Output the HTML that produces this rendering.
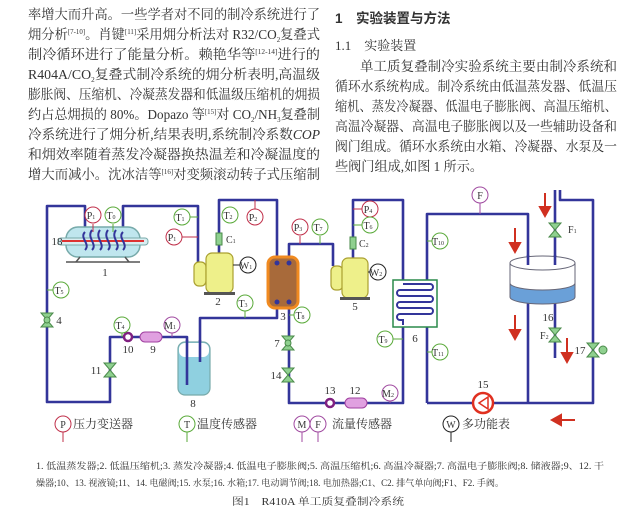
<!DOCTYPE html>
<html><head><meta charset="utf-8"><style>
html,body{margin:0;padding:0;background:#fff;}
svg{display:block;}
.t{font-family:"Liberation Serif","Noto Serif CJK SC",serif;fill:#333;}
.s{font-family:"Liberation Serif",serif;font-size:10px;}
</style></head><body>
<svg width="640" height="509" viewBox="0 0 640 509" xmlns="http://www.w3.org/2000/svg">
<g class="t" font-size="13.5">
<text x="28" y="19" textLength="292" lengthAdjust="spacingAndGlyphs">率增大而升高。一些学者对不同的制冷系统进行了</text>
<text x="28" y="39" textLength="292" lengthAdjust="spacingAndGlyphs">㶲分析<tspan font-size="7" dy="-5">[7-10]</tspan><tspan dy="5">。肖键</tspan><tspan font-size="7" dy="-5">[11]</tspan><tspan dy="5">采用㶲分析法对 R32/CO</tspan><tspan font-size="7" dy="3">2</tspan><tspan dy="-3">复叠式</tspan></text>
<text x="28" y="59" textLength="292" lengthAdjust="spacingAndGlyphs">制冷循环进行了能量分析。赖艳华等<tspan font-size="7" dy="-5">[12-14]</tspan><tspan dy="5">进行的</tspan></text>
<text x="28" y="79" textLength="292" lengthAdjust="spacingAndGlyphs">R404A/CO<tspan font-size="7" dy="3">2</tspan><tspan dy="-3">复叠式制冷系统的㶲分析表明,高温级</tspan></text>
<text x="28" y="99" textLength="292" lengthAdjust="spacingAndGlyphs">膨胀阀、压缩机、冷凝蒸发器和低温级压缩机的㶲损</text>
<text x="28" y="119" textLength="292" lengthAdjust="spacingAndGlyphs">约占总㶲损的 80%。Dopazo 等<tspan font-size="7" dy="-5">[15]</tspan><tspan dy="5">对 CO</tspan><tspan font-size="7" dy="3">2</tspan><tspan dy="-3">/NH</tspan><tspan font-size="7" dy="3">3</tspan><tspan dy="-3">复叠制</tspan></text>
<text x="28" y="139" textLength="292" lengthAdjust="spacingAndGlyphs">冷系统进行了㶲分析,结果表明,系统制冷系数<tspan font-style="italic">COP</tspan></text>
<text x="28" y="159" textLength="292" lengthAdjust="spacingAndGlyphs">和㶲效率随着蒸发冷凝器换热温差和冷凝温度的</text>
<text x="28" y="179" textLength="292" lengthAdjust="spacingAndGlyphs">增大而减小。沈冰洁等<tspan font-size="7" dy="-5">[16]</tspan><tspan dy="5">对变频滚动转子式压缩制</tspan></text>
</g>
<g class="t">
<text x="335" y="23" font-size="13.5" font-weight="bold" font-family="Liberation Sans,Noto Sans CJK SC,sans-serif">1　实验装置与方法</text>
<text x="335" y="50" font-size="13">1.1　实验装置</text>
<g font-size="13.5">
<text x="360" y="71" textLength="257" lengthAdjust="spacingAndGlyphs">单工质复叠制冷实验系统主要由制冷系统和</text>
<text x="335" y="91" textLength="282" lengthAdjust="spacingAndGlyphs">循环水系统构成。制冷系统由低温蒸发器、低温压</text>
<text x="335" y="111" textLength="282" lengthAdjust="spacingAndGlyphs">缩机、蒸发冷凝器、低温电子膨胀阀、高温压缩机、</text>
<text x="335" y="131" textLength="282" lengthAdjust="spacingAndGlyphs">高温冷凝器、高温电子膨胀阀以及一些辅助设备和</text>
<text x="335" y="151" textLength="282" lengthAdjust="spacingAndGlyphs">阀门组成。循环水系统由水箱、冷凝器、水泵及一</text>
<text x="335" y="171" textLength="148" lengthAdjust="spacingAndGlyphs">些阀门组成,如图 1 所示。</text>
</g></g>

<g fill="none" stroke="#33359a" stroke-width="2.6" stroke-linejoin="round">
<path d="M85,232 V206 H47 V402 H110 V337 H187 V385"/>
<path d="M123,232 V206 H198 V264"/>
<path d="M219,255 V200 H277 V262"/>
<path d="M200,362 V318 H277 V302"/>
<path d="M289,302 V403 H403 V325"/>
<path d="M289,262 V244 H333 V266"/>
<path d="M353,258 V200 H403 V282"/>
<path d="M427,403 V214 H528 V262"/>
<path d="M427,403 H593 V200 H560 V190"/>
<path d="M528,300 V403"/>
<path d="M555,190 V265"/>
<path d="M555,300 V358"/>
</g>

<rect x="66" y="227" width="74" height="30" rx="12" fill="#bfe6ee" stroke="#7aa" stroke-width="1.5"/>
<rect x="58" y="238" width="90" height="7" rx="3" fill="#d9eef2" stroke="#7aa" stroke-width="1"/>
<line x1="62" y1="241" x2="144" y2="241" stroke="#d33" stroke-width="2"/>
<path d="M85,232 c-6,6 6,12 0,18 M92,230 c-6,8 6,14 0,20 M100,230 c-6,8 6,14 0,20 M108,230 c-6,8 6,14 0,20 M116,230 c-6,8 6,14 0,20 M123,232 c-6,6 6,12 0,18" stroke="#33359a" stroke-width="2" fill="none"/>
<line x1="66" y1="262" x2="140" y2="262" stroke="#555" stroke-width="1.5"/>
<line x1="80" y1="257" x2="76" y2="262" stroke="#555" stroke-width="1.5"/><line x1="125" y1="257" x2="129" y2="262" stroke="#555" stroke-width="1.5"/>

<rect x="194" y="262" width="12" height="24" rx="5" fill="#eef08a" stroke="#aaa030" stroke-width="1.2"/>
<rect x="206" y="253" width="27" height="40" rx="6" fill="#eef08a" stroke="#aaa030" stroke-width="1.2"/>
<rect x="204" y="292" width="31" height="3" fill="#555"/>
<rect x="331" y="266" width="12" height="24" rx="5" fill="#eef08a" stroke="#aaa030" stroke-width="1.2"/>
<rect x="342" y="258" width="26" height="40" rx="6" fill="#eef08a" stroke="#aaa030" stroke-width="1.2"/>
<rect x="340" y="297" width="30" height="3" fill="#555"/>
<rect x="268" y="257" width="30" height="51" rx="7" fill="#a86a3a" stroke="#f08a20" stroke-width="3"/>
<circle cx="277" cy="263" r="2.5" fill="#33359a"/><circle cx="289" cy="263" r="2.5" fill="#33359a"/>
<circle cx="277" cy="302" r="2.5" fill="#33359a"/><circle cx="289" cy="302" r="2.5" fill="#33359a"/>
<rect x="393" y="280" width="44" height="47" fill="#fff" stroke="#2a8a4a" stroke-width="1.5"/>
<path d="M403,284 H430 a3,3 0 0 1 0,6 H400 a3,3 0 0 0 0,6 H430 a3,3 0 0 1 0,6 H400 a3,3 0 0 0 0,6 H430 a3,3 0 0 1 0,6 H400 a3,3 0 0 0 0,6 H403 V325" fill="none" stroke="#33359a" stroke-width="2"/>
<rect x="178" y="342" width="32" height="53" rx="7" fill="#8fd0e0" stroke="#7aa" stroke-width="1.2"/>
<rect x="179" y="343" width="30" height="14" rx="6" fill="#fff"/>
<path d="M187,340 V385 M200,340 V362" stroke="#33359a" stroke-width="2.6"/>
<path d="M510,263 V297 A32.5,7 0 0 0 575,297 V263" fill="#6aa0d8" stroke="#667" stroke-width="1"/>
<path d="M510,263 V283 A32.5,7 0 0 0 575,283 V263" fill="#fff" stroke="#667" stroke-width="1"/>
<ellipse cx="542.5" cy="263" rx="32.5" ry="7" fill="#fff" stroke="#667" stroke-width="1"/>
<line x1="528" y1="255" x2="528" y2="265" stroke="#33359a" stroke-width="2.6"/>
<line x1="555" y1="255" x2="555" y2="265" stroke="#33359a" stroke-width="2.6"/>

<g fill="#8fd08f" stroke="#4a8a4a" stroke-width="1">
<path d="M41,313 H53 L41,327 H53 Z"/><circle cx="47" cy="320" r="3"/>
<path d="M104,363 H116 L104,377 H116 Z"/>
<path d="M282,336 H294 L282,350 H294 Z"/><circle cx="288" cy="343" r="3"/>
<path d="M282,368 H294 L282,382 H294 Z"/>
<path d="M549,223 H561 L549,237 H561 Z"/>
<path d="M549,328 H561 L549,342 H561 Z"/>
<path d="M587,343 H599 L587,357 H599 Z"/><circle cx="603" cy="350" r="4"/>
<rect x="216" y="233" width="6" height="12" fill="#8fd08f"/><rect x="350" y="237" width="6" height="12" fill="#8fd08f"/>
</g>
<rect x="140" y="332" width="22" height="10" rx="5" fill="#e0a0e0" stroke="#a040a0"/>
<rect x="345" y="398" width="22" height="10" rx="5" fill="#e0a0e0" stroke="#a040a0"/>
<circle cx="128" cy="337" r="4" fill="#fff" stroke="#802080" stroke-width="2.5"/>
<circle cx="330" cy="403" r="4" fill="#fff" stroke="#802080" stroke-width="2.5"/>
<circle cx="483" cy="403" r="10" fill="#fff" stroke="#e03020" stroke-width="2.5"/>
<path d="M479,403 L488,397 V409 Z" fill="none" stroke="#e03020" stroke-width="1.5"/>

<g stroke="#d03020" stroke-width="2" fill="#d03020">
<line x1="545" y1="193" x2="545" y2="210"/><path d="M540,207 L545,216 L550,207 Z"/>
<line x1="515" y1="228" x2="515" y2="246"/><path d="M510,243 L515,252 L520,243 Z"/>
<line x1="515" y1="315" x2="515" y2="333"/><path d="M510,330 L515,339 L520,330 Z"/>
<line x1="567" y1="338" x2="567" y2="356"/><path d="M562,353 L567,362 L572,353 Z"/>
<line x1="575" y1="420" x2="558" y2="420"/><path d="M561,415 L552,420 L561,425 Z"/>
</g>

<g fill="#fff" stroke-width="1">
<g stroke="#c0304a"><line x1="93" y1="224" x2="93" y2="232"/><circle cx="93" cy="215" r="8"/>
<line x1="182" y1="237" x2="198" y2="237"/><circle cx="174" cy="237" r="8"/>
<line x1="255" y1="209" x2="255" y2="200"/><circle cx="255" cy="217" r="8"/>
<line x1="300" y1="236" x2="300" y2="244"/><circle cx="300" cy="227" r="8"/>
<line x1="362" y1="209" x2="353" y2="209"/><circle cx="370" cy="209" r="8"/>
<circle cx="63" cy="424" r="8"/><line x1="63" y1="432" x2="63" y2="442"/>
</g>
<g stroke="#5aaa3a"><line x1="113" y1="224" x2="113" y2="232"/><circle cx="113" cy="215" r="8"/>
<line x1="190" y1="217" x2="198" y2="217"/><circle cx="182" cy="217" r="8"/>
<line x1="230" y1="215" x2="222" y2="215"/><circle cx="230" cy="215" r="8"/>
<line x1="245" y1="311" x2="245" y2="318"/><circle cx="245" cy="303" r="8"/>
<line x1="320" y1="236" x2="320" y2="244"/><circle cx="320" cy="227" r="8"/>
<line x1="362" y1="225" x2="353" y2="225"/><circle cx="370" cy="225" r="8"/>
<line x1="53" y1="290" x2="47" y2="290"/><circle cx="61" cy="290" r="8"/>
<line x1="122" y1="333" x2="122" y2="337"/><circle cx="122" cy="325" r="8"/>
<line x1="300" y1="315" x2="289" y2="315"/><circle cx="302" cy="315" r="8"/>
<line x1="393" y1="339" x2="403" y2="339"/><circle cx="385" cy="339" r="8"/>
<line x1="432" y1="241" x2="427" y2="241"/><circle cx="440" cy="241" r="8"/>
<line x1="432" y1="352" x2="427" y2="352"/><circle cx="440" cy="352" r="8"/>
<circle cx="187" cy="424" r="8"/><line x1="187" y1="432" x2="187" y2="442"/>
</g>
<g stroke="#a04aa0"><line x1="172" y1="333" x2="172" y2="337"/><circle cx="172" cy="325" r="8"/>
<line x1="390" y1="401" x2="390" y2="403"/><circle cx="390" cy="393" r="8"/>
<line x1="480" y1="203" x2="480" y2="214"/><circle cx="480" cy="195" r="8"/>
<circle cx="302" cy="424" r="8"/><line x1="302" y1="432" x2="302" y2="442"/>
<circle cx="318" cy="424" r="8"/><line x1="318" y1="432" x2="318" y2="442"/>
</g>
<g stroke="#222"><line x1="233" y1="265" x2="240" y2="265"/><circle cx="248" cy="265" r="8"/>
<line x1="368" y1="272" x2="370" y2="272"/><circle cx="378" cy="272" r="8"/>
<circle cx="451" cy="424" r="8"/><line x1="451" y1="432" x2="451" y2="442"/>
</g>
</g>
<g class="s" fill="#333" text-anchor="middle">
<text x="91" y="219">P<tspan font-size="6">1</tspan></text>
<text x="172" y="241">P<tspan font-size="6">1</tspan></text>
<text x="253" y="221">P<tspan font-size="6">2</tspan></text>
<text x="298" y="231">P<tspan font-size="6">3</tspan></text>
<text x="368" y="213">P<tspan font-size="6">4</tspan></text>
<text x="111" y="219">T<tspan font-size="6">0</tspan></text>
<text x="180" y="221">T<tspan font-size="6">1</tspan></text>
<text x="228" y="219">T<tspan font-size="6">2</tspan></text>
<text x="243" y="307">T<tspan font-size="6">3</tspan></text>
<text x="120" y="329">T<tspan font-size="6">4</tspan></text>
<text x="59" y="294">T<tspan font-size="6">5</tspan></text>
<text x="368" y="229">T<tspan font-size="6">6</tspan></text>
<text x="318" y="231">T<tspan font-size="6">7</tspan></text>
<text x="300" y="319">T<tspan font-size="6">8</tspan></text>
<text x="383" y="343">T<tspan font-size="6">9</tspan></text>
<text x="438" y="245">T<tspan font-size="6">10</tspan></text>
<text x="438" y="356">T<tspan font-size="6">11</tspan></text>
<text x="170" y="329">M<tspan font-size="6">1</tspan></text>
<text x="388" y="397">M<tspan font-size="6">2</tspan></text>
<text x="480" y="199">F</text>
<text x="246" y="269">W<tspan font-size="6">1</tspan></text>
<text x="376" y="276">W<tspan font-size="6">2</tspan></text>
<text x="226" y="243" text-anchor="start">C<tspan font-size="6">1</tspan></text>
<text x="359" y="247" text-anchor="start">C<tspan font-size="6">2</tspan></text>
<text x="568" y="233" text-anchor="start">F<tspan font-size="6">1</tspan></text>
<text x="540" y="339" text-anchor="start">F<tspan font-size="6">2</tspan></text>
<text x="63" y="428">P</text><text x="187" y="428">T</text><text x="302" y="428">M</text><text x="318" y="428">F</text><text x="451" y="428">W</text>
<g font-size="11">
<text x="105" y="276">1</text><text x="57" y="245">18</text><text x="218" y="305">2</text><text x="283" y="320">3</text>
<text x="59" y="324">4</text><text x="355" y="310">5</text><text x="415" y="342">6</text><text x="277" y="347">7</text>
<text x="193" y="407">8</text><text x="153" y="353">9</text><text x="128" y="353">10</text><text x="96" y="374">11</text>
<text x="355" y="394">12</text><text x="330" y="394">13</text><text x="276" y="379">14</text><text x="483" y="388">15</text>
<text x="548" y="321">16</text><text x="580" y="354">17</text>
</g></g>
<g class="t" font-size="12">
<text x="73" y="428">压力变送器</text><text x="197" y="428">温度传感器</text>
<text x="332" y="428">流量传感器</text><text x="462" y="428">多功能表</text>
</g>
<g class="t" font-size="9">
<text x="36" y="469" textLength="568" lengthAdjust="spacingAndGlyphs">1. 低温蒸发器;2. 低温压缩机;3. 蒸发冷凝器;4. 低温电子膨胀阀;5. 高温压缩机;6. 高温冷凝器;7. 高温电子膨胀阀;8. 储液器;9、12. 干</text>
<text x="36" y="486" textLength="468" lengthAdjust="spacingAndGlyphs">燥器;10、13. 视液镜;11、14. 电磁阀;15. 水泵;16. 水箱;17. 电动调节阀;18. 电加热器;C1、C2. 排气单向阀;F1、F2. 手阀。</text>
<text x="232" y="505" font-size="10" textLength="172" lengthAdjust="spacingAndGlyphs">图1　R410A 单工质复叠制冷系统</text>
</g>
</svg>
</body></html>
